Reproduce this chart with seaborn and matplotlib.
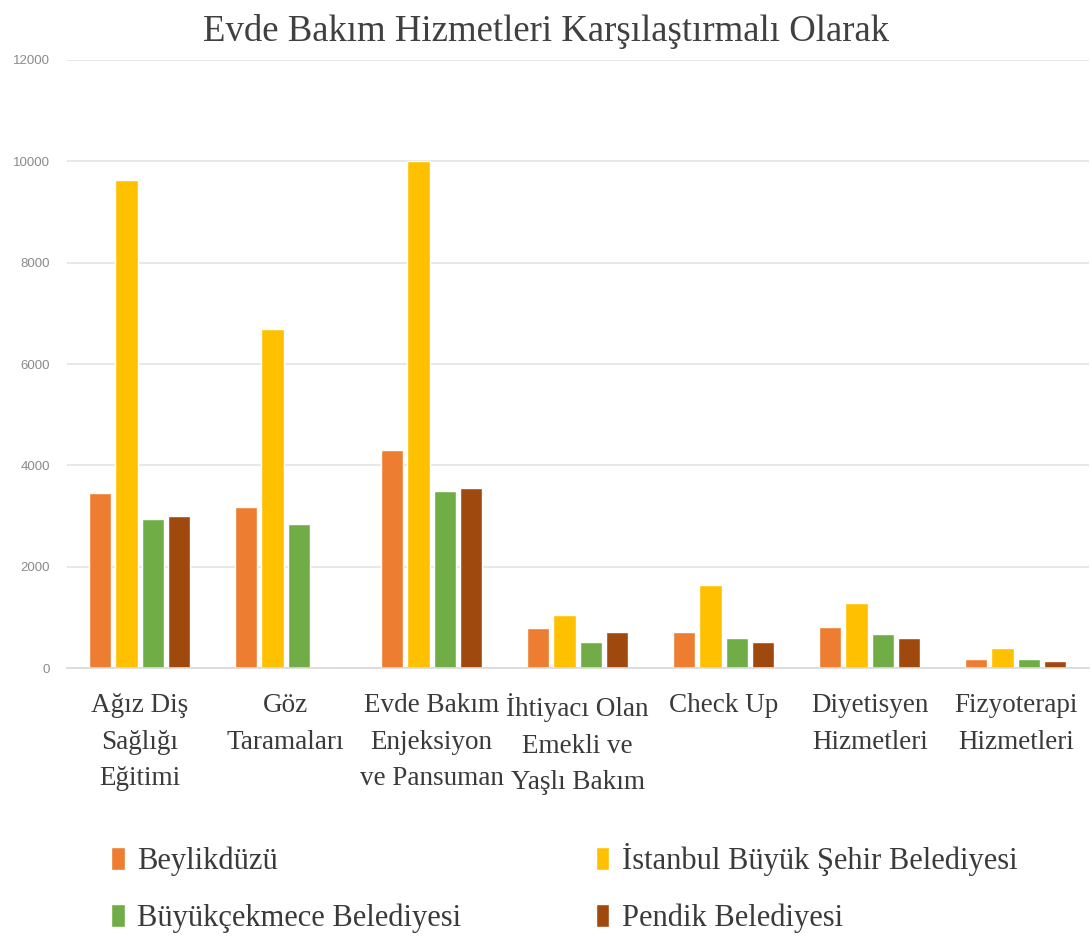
import numpy as np
import pandas as pd
import seaborn as sns
import matplotlib
matplotlib.use('Agg')
import matplotlib.pyplot as plt
from matplotlib.patches import Patch

# data
categories = ["Ağız Diş\nSağlığı\nEğitimi", "Göz\nTaramaları",
              "Evde Bakım\nEnjeksiyon\nve Pansuman",
              "İhtiyacı Olan\nEmekli ve\nYaşlı Bakım", "Check Up",
              "Diyetisyen\nHizmetleri", "Fizyoterapi\nHizmetleri"]
series = ["Beylikdüzü", "İstanbul Büyük Şehir Belediyesi",
          "Büyükçekmece Belediyesi", "Pendik Belediyesi"]
beylikduzu = [3450, 3180, 4300, 800, 710, 810, 180]
istanbul = [9620, 6690, 10000, 1050, 1640, 1280, 400]
buyukcekmece = [2940, 2840, 3500, 510, 590, 680, 180]
pendik = [3000, 0, 3560, 710, 510, 590, 135]
colors = ["#ED7D31", "#FFC000", "#70AD47", "#A0490F"]

values = [beylikduzu, istanbul, buyukcekmece, pendik]
rows = []
for s, vals in zip(series, values):
    for c, v in zip(categories, vals):
        rows.append({'kategori': c, 'seri': s, 'deger': v})
df = pd.DataFrame(rows)

sns.set_style('white')
serif = ['Liberation Serif', 'DejaVu Serif']

fig = plt.figure(figsize=(10.92, 9.48), dpi=100)
ax = fig.add_axes([0.061, 0.295, 0.936, 0.642])

sns.barplot(data=df, x='kategori', y='deger', hue='seri', order=categories,
            hue_order=series, palette=colors, width=0.72, gap=0.15,
            saturation=1, legend=False, ax=ax)

ax.set_ylim(0, 12000)
ax.set_xlim(-0.5, len(categories) - 0.5)
ax.set_yticks(np.arange(0, 12001, 2000))
ax.yaxis.grid(True, color='#e3e3e3', linewidth=1.2)
ax.set_axisbelow(True)
for side in ['top', 'right', 'left']:
    ax.spines[side].set_visible(False)
ax.spines['bottom'].set_color('#d9d9d9')
ax.spines['bottom'].set_linewidth(1.2)
ax.set_xlabel('')
ax.set_ylabel('')
ax.tick_params(axis='y', length=0, pad=12, labelsize=9.5, labelcolor='#8a8a8a')
ax.tick_params(axis='x', length=0, pad=18)
for lbl in ax.get_yticklabels():
    lbl.set_family('Liberation Sans')
for lbl in ax.get_xticklabels():
    lbl.set_family(serif)
    lbl.set_fontsize(19.5)
    lbl.set_color('#3a3a3a')
    lbl.set_linespacing(1.6)

fig.suptitle('Evde Bakım Hizmetleri Karşılaştırmalı Olarak', y=0.985,
             fontsize=26.5, family=serif, color='#404040')

# legend: two columns, filled column-wise
order = [0, 2, 1, 3]
handles = [Patch(facecolor=colors[i]) for i in order]
labels = [series[i] for i in order]
fig.legend(handles, labels, ncol=2, loc='upper left',
           bbox_to_anchor=(0.085, 0.13), frameon=False,
           prop={'family': serif, 'size': 22}, labelcolor='#3a3a3a',
           handlelength=0.45, handleheight=0.75, handletextpad=0.4,
           columnspacing=4.4, labelspacing=0.9, borderaxespad=0.2)

fig.savefig('out.png', dpi=100)
